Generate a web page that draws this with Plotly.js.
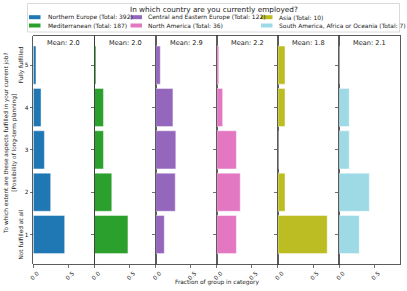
<!DOCTYPE html>
<html>
<head>
<meta charset="utf-8">
<script src="https://cdn.plot.ly/plotly-3.0.1.min.js"></script>
<style>html,body{margin:0;padding:0;background:#fff;}#chart{width:407px;height:291px;}</style>
</head>
<body>
<div id="chart"></div>
<script>
// ---- data ----
var levels = [1, 2, 3, 4, 5];
var levelLabels = ["1", "2", "3", "4", "5"];
var groups = ["Northern Europe (Total: 392)", "Mediterranean (Total: 187)", "Central and Eastern Europe (Total: 122)", "North America (Total: 36)", "Asia (Total: 10)", "South America, Africa or Oceania (Total: 7)"];
var colors = ["#1f77b4", "#2ca02c", "#9467bd", "#e377c2", "#bcbd22", "#9edae5"];
// fractions for levels 1..5
var northernEurope = [0.446, 0.247, 0.158, 0.110, 0.038];
var mediterranean = [0.476, 0.246, 0.128, 0.128, 0.021];
var centralEastern = [0.123, 0.279, 0.287, 0.246, 0.066];
var northAmerica = [0.278, 0.333, 0.278, 0.083, 0.028];
var asia = [0.7, 0.1, 0.0, 0.1, 0.1];
var southAmerica = [0.286, 0.429, 0.143, 0.143, 0.0];
var meanLabels = ["Mean: 2.0", "Mean: 2.0", "Mean: 2.9", "Mean: 2.2", "Mean: 1.8", "Mean: 2.1"];
var xTickVals = [0, 0.5];
var xTickText = ["0.0", "0.5"];
var series = [northernEurope, mediterranean, centralEastern, northAmerica, asia, southAmerica];

(function () {
  // ---- layout geometry ----
  var W = 407, H = 291;
  var plotLeft = 33.3, pw = 61.17, plotTop = 35.7, plotBottom = 264;
  var FONT = "DejaVu Sans, Liberation Sans, sans-serif";
  var AX = 5.8, LEG = 5.95, MEAN = 6.6, TITLE = 7.3;
  function px(x) { return x / W; }
  function py(y) { return 1 - y / H; }

  var traces = [];
  var layout = {
    width: W, height: H, autosize: false,
    margin: {l: 0, r: 0, t: 0, b: 0},
    paper_bgcolor: "#fff", plot_bgcolor: "#fff",
    showlegend: false,
    font: {family: FONT, size: AX, color: "#222"},
    shapes: [], annotations: []
  };

  for (var i = 0; i < 6; i++) {
    var xs = i === 0 ? "x" : "x" + (i + 1);
    var ys = i === 0 ? "y" : "y" + (i + 1);
    traces.push({
      type: "bar", orientation: "h",
      x: series[i], y: levels,
      xaxis: xs, yaxis: ys, width: 0.9,
      marker: {color: colors[i], line: {color: "rgba(255,255,255,0.55)", width: 0.8}},
      hoverinfo: "x+y", name: groups[i]
    });
    var xa = {
      domain: [px(plotLeft + pw * i), px(plotLeft + pw * (i + 1))],
      range: [0, 0.87], anchor: ys,
      tickvals: xTickVals, ticktext: xTickText,
      tickangle: -45, ticks: "outside", ticklen: 3, tickwidth: 0.7, tickcolor: "#333",
      tickfont: {size: AX, family: FONT, color: "#222"},
      ticklabelshift: 4, ticklabelstandoff: 0,
      showgrid: false, zeroline: false,
      showline: true, mirror: true, linecolor: "#333", linewidth: 0.8,
      fixedrange: true
    };
    var ya = {
      domain: [py(plotBottom), py(plotTop)],
      range: [0.305, 5.695], anchor: xs,
      tickvals: levels, ticktext: levelLabels,
      ticks: "outside", ticklen: 3, tickwidth: 0.7, tickcolor: "#333",
      tickfont: {size: AX, family: FONT, color: "#222"},
      showticklabels: i === 0,
      showgrid: false, zeroline: false,
      showline: true, mirror: true, linecolor: "#333", linewidth: 0.8,
      fixedrange: true
    };
    layout[i === 0 ? "xaxis" : "xaxis" + (i + 1)] = xa;
    layout[i === 0 ? "yaxis" : "yaxis" + (i + 1)] = ya;

    layout.annotations.push({
      xref: xs + " domain", yref: ys + " domain", x: 0.5, y: 1, yshift: -0.8,
      xanchor: "center", yanchor: "top", showarrow: false,
      text: meanLabels[i], font: {size: MEAN, family: FONT, color: "#222"}
    });
  }

  // axis titles
  layout.annotations.push({
    xref: "paper", yref: "paper", x: px(10), y: py(144), xanchor: "center", yanchor: "middle",
    showarrow: false, textangle: -90,
    text: "To which extent are these aspects fulfilled in your current job?<br>[Possibility of long-term planning]",
    font: {size: AX, family: FONT, color: "#222"}
  });
  layout.annotations.push({
    xref: "paper", yref: "y", x: px(21), y: 5, xanchor: "center", yanchor: "middle",
    showarrow: false, textangle: -90, text: "Fully fulfilled",
    font: {size: AX, family: FONT, color: "#222"}
  });
  layout.annotations.push({
    xref: "paper", yref: "y", x: px(21), y: 1, xanchor: "center", yanchor: "middle",
    showarrow: false, textangle: -90, text: "Not fulfilled at all",
    font: {size: AX, family: FONT, color: "#222"}
  });
  layout.annotations.push({
    xref: "paper", yref: "paper", x: px(216.8), y: py(282.5), xanchor: "center", yanchor: "middle",
    showarrow: false, text: "Fraction of group in category",
    font: {size: AX, family: FONT, color: "#222"}
  });

  // manual legend
  layout.shapes.push({
    type: "rect", xref: "paper", yref: "paper",
    x0: px(27.5), x1: px(399.5), y0: py(32), y1: py(3.5),
    line: {color: "#d0d0d0", width: 0.8}, fillcolor: "rgba(255,255,255,0.8)", layer: "above"
  });
  layout.annotations.push({
    xref: "paper", yref: "paper", x: px(213.5), y: py(9.3), xanchor: "center", yanchor: "middle",
    showarrow: false, text: "In which country are you currently employed?",
    font: {size: TITLE, family: FONT, color: "#222"}
  });
  var colPatchX = [29, 130.5, 261];
  var colTextX = [45.5, 146, 277];
  var rowY = [17.2, 25.5];
  for (var g = 0; g < groups.length; g++) {
    var c = Math.floor(g / 2), r = g % 2;
    layout.shapes.push({
      type: "rect", xref: "paper", yref: "paper",
      x0: px(colPatchX[c]), x1: px(colPatchX[c] + 11.5),
      y0: py(rowY[r] + 2), y1: py(rowY[r] - 2),
      line: {width: 0}, fillcolor: colors[g], layer: "above"
    });
    layout.annotations.push({
      xref: "paper", yref: "paper", x: px(colTextX[c]), y: py(rowY[r]),
      xanchor: "left", yanchor: "middle", showarrow: false,
      text: groups[g], font: {size: LEG, family: FONT, color: "#222"}
    });
  }

  Plotly.newPlot("chart", traces, layout, {staticPlot: true, displayModeBar: false});
})();
</script>
</body>
</html>
